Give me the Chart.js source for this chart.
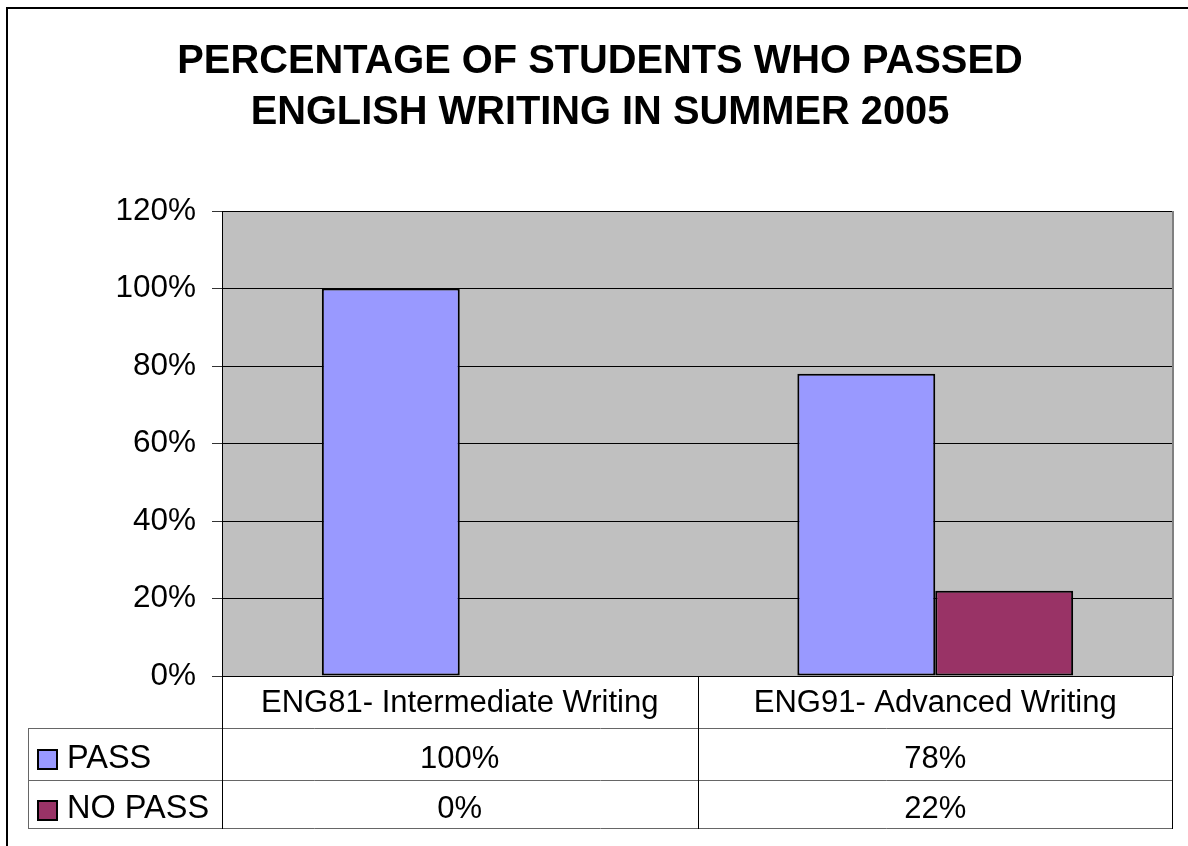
<!DOCTYPE html>
<html>
<head>
<meta charset="utf-8">
<script src="https://cdn.jsdelivr.net/npm/chart.js@4/dist/chart.umd.min.js"></script>
<style>
  html, body { margin: 0; padding: 0; background: #ffffff; overflow: hidden; }
  #wrap { width: 1188px; height: 846px; overflow: hidden; position: relative; }
  canvas { display: block; }
</style>
</head>
<body>
<div id="wrap"><canvas id="c" width="1200" height="846" style="width:1200px;height:846px"></canvas></div>
<script>
const titleLines = ['PERCENTAGE OF STUDENTS WHO PASSED', 'ENGLISH WRITING IN SUMMER 2005'];
const categories = ['ENG81- Intermediate Writing', 'ENG91- Advanced Writing'];
const seriesNames = ['PASS', 'NO PASS'];
const passValues = [100, 78];
const noPassValues = [0, 22];
const seriesColors = ['#9999FF', '#993366'];
const yMin = 0, yMax = 120, yStep = 20;

const FONT = '"Liberation Sans", Arial, Helvetica, sans-serif';
const fmtPct = v => v + '%';

const chartDecor = {
  id: 'chartDecor',
  beforeDraw(chart) {
    const ctx = chart.ctx, ca = chart.chartArea;
    ctx.save();
    ctx.fillStyle = '#ffffff';
    ctx.fillRect(0, 0, chart.width, chart.height);
    // outer chart border (right/bottom fall outside the picture)
    ctx.strokeStyle = '#000000';
    ctx.lineWidth = 2;
    ctx.strokeRect(7, 8, chart.width + 40, chart.height + 40);
    // plot area background
    ctx.fillStyle = '#C0C0C0';
    ctx.fillRect(ca.left, ca.top, ca.right - ca.left, ca.bottom - ca.top);
    // title
    ctx.fillStyle = '#000000';
    ctx.font = 'bold 39.8px ' + FONT;
    ctx.textAlign = 'center';
    ctx.textBaseline = 'alphabetic';
    const cx = chart.width / 2;
    ctx.fillText(titleLines[0], cx, 73);
    ctx.fillText(titleLines[1], cx, 124);
    ctx.restore();
  },
  afterDraw(chart) {
    const ctx = chart.ctx, ca = chart.chartArea, xs = chart.scales.x;
    const top = Math.round(ca.bottom);
    const rowH = [52, 52, 48];
    const y1 = top + rowH[0], y2 = y1 + rowH[1], y3 = y2 + rowH[2];
    const tableLeft = 28;
    const n = categories.length;
    const bounds = [ca.left];
    for (let i = 0; i < n - 1; i++) bounds.push((xs.getPixelForValue(i) + xs.getPixelForValue(i + 1)) / 2);
    bounds.push(ca.right);
    ctx.save();
    // right edge of plot area
    ctx.strokeStyle = '#808080';
    ctx.lineWidth = 2;
    ctx.beginPath();
    ctx.moveTo(ca.right, ca.top);
    ctx.lineTo(ca.right, ca.bottom);
    ctx.stroke();
    // horizontal table lines
    ctx.lineWidth = 1;
    ctx.strokeStyle = '#666666';
    [y1, y2, y3].forEach(y => {
      ctx.beginPath();
      ctx.moveTo(tableLeft, y + 0.5);
      ctx.lineTo(ca.right, y + 0.5);
      ctx.stroke();
    });
    // left vertical of legend column
    ctx.beginPath();
    ctx.moveTo(tableLeft + 0.5, y1);
    ctx.lineTo(tableLeft + 0.5, y3 + 1);
    ctx.stroke();
    // vertical column lines
    ctx.strokeStyle = '#000000';
    bounds.forEach((bx, i) => {
      const x = Math.round(bx) + (i === bounds.length - 1 ? -0.5 : 0.5);
      ctx.beginPath();
      ctx.moveTo(x, top);
      ctx.lineTo(x, y3 + 1);
      ctx.stroke();
    });
    // texts
    ctx.fillStyle = '#000000';
    ctx.font = '31px ' + FONT;
    ctx.textBaseline = 'alphabetic';
    ctx.textAlign = 'center';
    categories.forEach((c, i) => ctx.fillText(c, xs.getPixelForValue(i), top + 36));
    const rowsY = [y1, y2];
    const rowBase = [40, 38];
    chart.data.datasets.forEach((ds, r) => {
      const ry = rowsY[r];
      ctx.font = '31px ' + FONT;
      ds.data.forEach((v, i) => {
        ctx.textAlign = 'center';
        ctx.fillText(fmtPct(v), xs.getPixelForValue(i), ry + rowBase[r]);
      });
      // legend key
      const ky = ry + (r === 0 ? 21 : 20);
      ctx.fillStyle = ds.backgroundColor;
      ctx.fillRect(37, ky, 21, 21);
      ctx.strokeStyle = '#000000';
      ctx.lineWidth = 2;
      ctx.strokeRect(38, ky + 1, 19, 19);
      ctx.fillStyle = '#000000';
      ctx.textAlign = 'left';
      ctx.font = '32.5px ' + FONT;
      ctx.fillText(ds.label, 67, ry + rowBase[r]);
    });
    ctx.restore();
  }
};

new Chart(document.getElementById('c'), {
  type: 'bar',
  data: {
    labels: categories,
    datasets: [
      { label: seriesNames[0], data: passValues, backgroundColor: seriesColors[0] },
      { label: seriesNames[1], data: noPassValues, backgroundColor: seriesColors[1] }
    ]
  },
  options: {
    responsive: false,
    animation: false,
    devicePixelRatio: 1,
    layout: { padding: { top: 211, bottom: 170, left: 0, right: 27 } },
    datasets: {
      bar: {
        borderColor: '#000000',
        borderWidth: 2,
        borderSkipped: false,
        categoryPercentage: 0.58,
        barPercentage: 1.0
      }
    },
    plugins: {
      legend: { display: false },
      title: { display: false },
      tooltip: { enabled: false }
    },
    scales: {
      x: { display: false },
      y: {
        min: yMin,
        max: yMax,
        afterFit(scale) { scale.width = 222; },
        ticks: {
          stepSize: yStep,
          color: '#000000',
          padding: 16,
          font: { family: FONT, size: 31.5 },
          callback: v => fmtPct(v)
        },
        grid: {
          color: '#000000',
          lineWidth: 1,
          tickLength: 10,
          tickColor: '#333333'
        },
        border: { display: true, color: '#000000', width: 1 }
      }
    }
  },
  plugins: [chartDecor]
});
</script>
</body>
</html>
